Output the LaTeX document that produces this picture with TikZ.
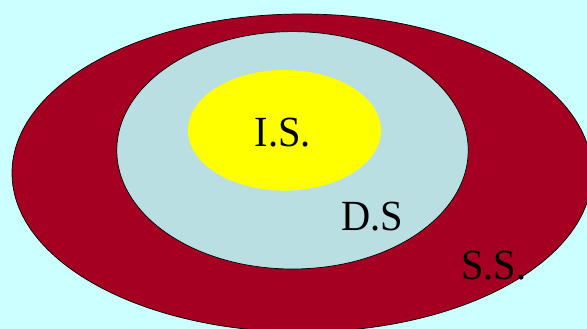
\documentclass[tikz,border=0pt]{standalone}
\usepackage{fontspec}
\setmainfont{Liberation Serif}
\newfontfamily\lblfont[FakeStretch=0.94]{Liberation Serif}
\definecolor{bgcyan}{RGB}{204,255,255}
\definecolor{ssred}{RGB}{165,0,33}
\definecolor{dsblue}{RGB}{185,223,227}
\definecolor{isyellow}{RGB}{255,255,0}
\tikzset{
  ring/.style={draw=black,line width=0.7pt},
  lbl/.style={anchor=base,inner sep=0pt,font=\lblfont\fontsize{43}{43}\selectfont,text=black}
}
\begin{document}
\begin{tikzpicture}[x=1pt,y=-1pt]
\useasboundingbox (0,0) rectangle (587,329);
\fill[bgcyan] (0,0) rectangle (587,329);
\clip (0,0) rectangle (587,329);
\draw[ring,fill=ssred] (302,173) ellipse [x radius=290pt, y radius=159pt];
\draw[ring,fill=dsblue] (292.5,150.3) ellipse [x radius=175.7pt, y radius=118.7pt];
\fill[isyellow] (284.5,130.3) ellipse [x radius=96.5pt, y radius=60.3pt];
\node[lbl] (is) at (283,146.7) {I.S.};
\node[lbl] (ds) at (372,230.7) {D.S};
\node[lbl] (ss) at (494,279) {S.S.};
\end{tikzpicture}
\end{document}
